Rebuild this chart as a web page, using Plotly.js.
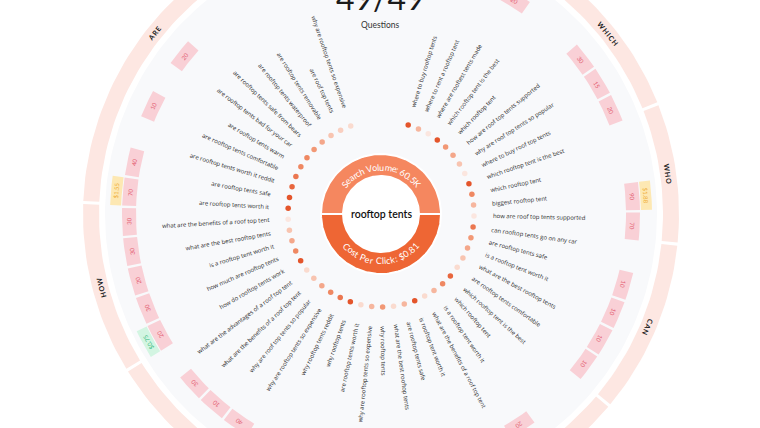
<!DOCTYPE html>
<html><head><meta charset="utf-8">
<script src="https://cdn.plot.ly/plotly-3.0.1.min.js"></script>
<style>html,body{margin:0;padding:0;background:#fff}#chart{width:760px;height:428px}</style>
</head><body><div id="chart"></div>
<script>
// ---------------- data ----------------
const keyword = "rooftop tents";
const searchVolumeText = "Search Volume: 60.5K";
const cpcText = "Cost Per Click: $0.81";
const questionCount = "49/49";
const questionCaption = "Questions";

const questions = [
 "where to buy rooftop tents","where to rent a rooftop tent","where are rooftest tents made",
 "which rooftop tent is the best","which rooftop tent","how are roof top tents supported",
 "why are roof top tents so popular","where to buy roof top tents","which rooftop tent is the best",
 "which rooftop tent","biggest rooftop tent","how are roof top tents supported",
 "can rooftop tents go on any car","are rooftop tents safe","is a rooftop tent worth it",
 "what are the best rooftop tents","are rooftop tents comfortable","which rooftop tent is the best",
 "which rooftop tent","is a rooftop tent worth it","what are the benefits of a roof top tent",
 "is rooftop tent worth it","are rooftop tents safe","what are the best rooftop tents",
 "why rooftop tents","why are rooftop tents so expensive","are rooftop tents worth it",
 "why rooftop tents","why rooftop tents reddit","why are rooftop tents so expensive",
 "why are roof top tents so popular","what are the benefits of a roof top tent","what are the advantages of a roof top tent",
 "how do rooftop tents work","how much are rooftop tents","is a rooftop tent worth it",
 "what are the best rooftop tents","what are the benefits of a roof top tent","are rooftop tents worth it",
 "are rooftop tents safe","are rooftop tents worth it reddit","are rooftop tents comfortable",
 "are rooftop tents warm","are rooftop tents bad for your car","are rooftop tents safe from bears",
 "are rooftop tents waterproof","are rooftop tents removable","are roof top tents",
 "why are rooftop tents so expensive"
];
// relative search-volume level of each question (0 = lowest, 5 = highest)
const volumeLevel = [5,2,0,5,3,2.5,1.5,0,5,3.5, 2,0,4,3,2.5,1.5,0.5,4.5,3.5,2,
 0.5,5,2,0.5,3,2,0.5,5,4,3.5, 2.5,1.5,0.5,5,3.5,2.5,1.5,0,5,5, 4.5,4,3.5,3.5,3,2.5,1.5,1,0.5];

// competition / value boxes (question index -> value)
const boxIndex = [2,5,6,7,10,11,13,14,15,16,19,29,30,31,33,34,35,36,37,38,39,41,43];
const boxValue = ["20","30","15","20","90","70","10","10","10","10","20","40","10","30","20","30","20","30","30","70","40","10","20"];
// CPC boxes
const cpcIndex = [10,33,38];
const cpcValue = ["$1.88","$0.75","$1.55"];
const cpcKind  = ["high","low","high"];

// outer ring groups and their angular span (degrees), clockwise
const groupNames = ["WHERE","WHICH","WHO","CAN","IS","WHAT","WHY","HOW","ARE"];
const groupSpan  = [49.5,33.8,27.5,34.2,35,35,38.4,33.8,72.8];

// ---------------- geometry helpers ----------------
const groupStartAngle = 345;
const firstAngle = 17, lastAngle = 341;
const n = questions.length;
const step = (lastAngle-firstAngle)/(n-1);
const slotAngle = i => firstAngle + step*i;
const rad = d => d*Math.PI/180;
const X = (r,a) => r*Math.sin(rad(a));
const Y = (r,a) => r*Math.cos(rad(a));
const norm = a => { a = ((a%360)+360)%360; return a>180 ? a-360 : a; };

const R = {disc:276, band0:282, band1:298, cpc0:260, cpc1:271, box0:245, box1:259,
           dot:93, label:112, donut0:38, donut1:60, donutText:47, group:290};
const boxShift = 1.5;
const LABEL_FONT = 'Open Sans';

const ctx = document.createElement('canvas').getContext('2d');
function tw(s,size,family,weight){ ctx.font = (weight||400)+' '+size+'px "'+(family||'Lato')+'"'; return ctx.measureText(s).width; }

function sector(r0,r1,a0,a1){
  const xs=[],ys=[]; const k=Math.max(6,Math.ceil(Math.abs(a1-a0)/1.5));
  for(let j=0;j<=k;j++){const a=a0+(a1-a0)*j/k; xs.push(X(r1,a)); ys.push(Y(r1,a));}
  for(let j=k;j>=0;j--){const a=a0+(a1-a0)*j/k; xs.push(X(r0,a)); ys.push(Y(r0,a));}
  xs.push(xs[0]); ys.push(ys[0]); return {xs,ys};
}
function polyTrace(s,fill,line){
  return {type:'scatter',mode:'lines',x:s.xs,y:s.ys,fill:'toself',fillcolor:fill,
    line:line||{width:0,color:fill},hoverinfo:'skip',showlegend:false};
}

const traces=[]; const ann=[];
// background disc
traces.push(polyTrace(sector(0,R.disc,0,360),'#f8f9fb'));
// outer band
let a=groupStartAngle;
groupNames.forEach((g,i)=>{
  const a0=a, a1=a+groupSpan[i]; a=a1;
  traces.push(polyTrace(sector(R.band0,R.band1,a0+0.3,a1-0.3),'#fde7e2'));
  const mid=(a0+a1)/2;
  ann.push({x:X(R.group,mid),y:Y(R.group,mid),text:g.split('').join('\u2009'),textangle:norm(mid),
    showarrow:false,xanchor:'center',yanchor:'middle',font:{family:'Lato, sans-serif',size:7,color:'#222',weight:700}});
});
// value boxes
boxIndex.forEach((qi,k)=>{
  const m=slotAngle(qi)+boxShift;
  traces.push(polyTrace(sector(R.box0,R.box1,m-3.1,m+3.1),'#f9d0d6'));
  ann.push({x:X((R.box0+R.box1)/2,m),y:Y((R.box0+R.box1)/2,m),text:boxValue[k],textangle:norm(m),
    showarrow:false,xanchor:'center',yanchor:'middle',font:{family:'Lato, sans-serif',size:6,color:'#e35d72'}});
});
cpcIndex.forEach((qi,k)=>{
  const m=slotAngle(qi)+boxShift;
  const hi=cpcKind[k]==='high';
  traces.push(polyTrace(sector(R.cpc0,R.cpc1,m-3.1,m+3.1),hi?'#fde8b3':'#d3f5e2'));
  ann.push({x:X((R.cpc0+R.cpc1)/2,m),y:Y((R.cpc0+R.cpc1)/2,m),text:cpcValue[k],textangle:norm(m),
    showarrow:false,xanchor:'center',yanchor:'middle',font:{family:'Lato, sans-serif',size:6,color:hi?'#efac35':'#34ba80'}});
});
// dots
traces.push({type:'scatter',mode:'markers',x:questions.map((q,i)=>X(R.dot,slotAngle(i))),
  y:questions.map((q,i)=>Y(R.dot,slotAngle(i))),
  marker:{size:5.5,color:volumeLevel,cmin:0,cmax:5,
    colorscale:[[0,'#fbe6df'],[0.35,'#f7bea8'],[0.65,'#f1906b'],[1,'#e4552b']],line:{width:0}},
  hoverinfo:'skip',showlegend:false});
// donut
traces.push(polyTrace(sector(R.donut0,R.donut1,-90,90),'#f5875f',{width:2,color:'#ffffff'}));
traces.push(polyTrace(sector(R.donut0,R.donut1,90,270),'#ee6634',{width:2,color:'#ffffff'}));
traces.push(polyTrace(sector(0,R.donut0,0,360),'#ffffff'));

// question labels (size chosen so label lengths match the reference)
const s1 = 10*110/tw("what are the benefits of a roof top tent",10,LABEL_FONT);
const s2 = 10*69/tw("are rooftop tents worth it",10,LABEL_FONT);
const labelSize = (s1+s2)/2;
questions.forEach((q,i)=>{
  const th=slotAngle(i); const w=tw(q,labelSize,LABEL_FONT);
  const rc=R.label+w/2;
  const ang = th<180 ? th-90 : th-270;
  ann.push({x:X(rc,th),y:Y(rc,th),text:q,textangle:ang,showarrow:false,xanchor:'center',yanchor:'middle',
    font:{family:LABEL_FONT+', sans-serif',size:labelSize,color:'#2b2b2b'}});
});

// curved donut texts
function arcText(str,center,top){
  const fs=9; const ws=str.split('').map(c=>tw(c,fs)); const Wt=ws.reduce((s,v)=>s+v,0);
  let cum=0;
  str.split('').forEach((c,j)=>{
    const off=(cum+ws[j]/2-Wt/2)/R.donutText*180/Math.PI; cum+=ws[j];
    if(c===' ') return;
    const th= top ? center+off : center-off;
    ann.push({x:X(R.donutText,th),y:Y(R.donutText,th),text:c,textangle:top?norm(th):norm(th-180),
      showarrow:false,xanchor:'center',yanchor:'middle',font:{family:'Lato, sans-serif',size:fs,color:'#ffffff'}});
  });
}
arcText(searchVolumeText,0,true);
arcText(cpcText,180,false);

ann.push({x:0,y:0,text:keyword,showarrow:false,xanchor:'center',yanchor:'middle',
  font:{family:'Lato, sans-serif',size:10.5,color:'#111',weight:600}});
ann.push({xref:'paper',yref:'paper',x:0.5,y:1,yshift:3,text:questionCount,showarrow:false,xanchor:'center',yanchor:'middle',
  font:{family:'Lato, sans-serif',size:32,color:'#1b1b1b'}});
ann.push({xref:'paper',yref:'paper',x:0.5,y:1,yshift:-25,text:questionCaption,showarrow:false,xanchor:'center',yanchor:'middle',
  font:{family:'Lato, sans-serif',size:8.5,color:'#333'}});

const layout={width:760,height:428,margin:{l:0,r:0,t:0,b:0},paper_bgcolor:'#fff',plot_bgcolor:'#fff',
  xaxis:{range:[-381,379],visible:false,fixedrange:true},
  yaxis:{range:[-214,214],visible:false,fixedrange:true},
  showlegend:false,hovermode:false,annotations:ann};
Plotly.newPlot('chart',traces,layout,{staticPlot:true,displayModeBar:false});
</script></body></html>
